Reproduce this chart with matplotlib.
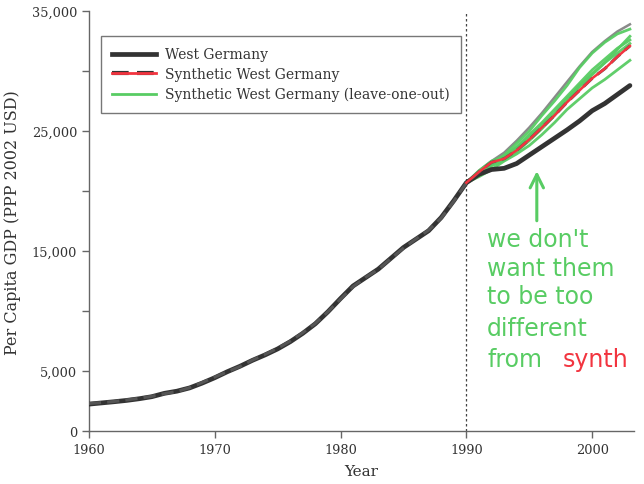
import matplotlib
matplotlib.use("Agg")
import matplotlib.pyplot as plt
from matplotlib.lines import Line2D

# data
years = list(range(1960, 2004))
west_germany = [2250, 2350, 2450, 2560, 2700, 2870, 3150, 3330, 3600, 4000,
                4450, 4950, 5400, 5900, 6350, 6850, 7450, 8150, 8950, 9950,
                11050, 12100, 12800, 13500, 14400, 15300, 16000, 16700, 17800, 19200,
                20700, 21400, 21800, 21900, 22300, 23000, 23700, 24400, 25100, 25850,
                26700, 27300, 28050, 28800]
synthetic = [2300, 2380, 2470, 2600, 2740, 2900, 3120, 3300, 3620, 4050,
             4500, 4950, 5380, 5920, 6400, 6900, 7500, 8200, 8980, 9950,
             11000, 12050, 12820, 13480, 14380, 15250, 16020, 16750, 17750, 19150,
             20700, 21600, 22400, 22700, 23400, 24300, 25300, 26300, 27400, 28400,
             29400, 30200, 31200, 32100]

loo_years = list(range(1990, 2004))
loo_1 = [20700, 21600, 22300, 23000, 24000, 25000, 26300, 27500, 28800, 30300,
         31500, 32400, 33100, 33500]
loo_2 = [20700, 21700, 22500, 22900, 23700, 24700, 25700, 26800, 27900, 29000,
         30100, 31000, 31900, 32600]
loo_3 = [20700, 21500, 22200, 22800, 23600, 24500, 25500, 26500, 27700, 28800,
         29800, 30700, 31500, 32300]
loo_4 = [20700, 21200, 21800, 22500, 23100, 23800, 24700, 25700, 26800, 27700,
         28600, 29300, 30100, 30900]
loo_5 = [20700, 21300, 22100, 22600, 23300, 24200, 25200, 26300, 27500, 28700,
         29700, 30700, 31800, 32900]
loo_grey = [20700, 21700, 22500, 23200, 24200, 25300, 26500, 27800, 29100, 30400,
            31600, 32500, 33300, 33900]
loo_series = [loo_4, loo_3, loo_2, loo_5, loo_1]

y_ticks = list(range(0, 35001, 5000))
y_labels = ['0', '5,000', '', '15,000', '', '25,000', '', '35,000']
x_ticks = [1960, 1970, 1980, 1990, 2000]

GREEN = '#58cc63'
RED = '#f2343f'
INK = '#333333'

plt.rcParams['font.family'] = ['DejaVu Serif']
fig = plt.figure(figsize=(6.44, 4.85), dpi=100)
ax = fig.add_axes([0.138, 0.109, 0.846, 0.866])

ax.plot(loo_years, loo_grey, color='#8a8a8a', lw=1.8, zorder=2)
for s in loo_series:
    ax.plot(loo_years, s, color=GREEN, lw=2.0, alpha=0.95, zorder=3)
ax.plot(years, west_germany, color=INK, lw=3.4, solid_capstyle='round', zorder=4)
ax.plot(years, synthetic, color='#555555', lw=2.2, ls=(0, (4, 2)), zorder=5)
ax.plot(years[30:], synthetic[30:], color=RED, lw=1.8, zorder=6)

ax.axvline(1990, color='#444444', lw=0.9, ls=(0, (2, 2)), zorder=1)

ax.set_xlim(1960, 2003.3)
ax.set_ylim(0, 35000)
ax.set_xticks(x_ticks)
ax.set_yticks(y_ticks)
ax.set_yticklabels(y_labels)
for side in ['top', 'right']:
    ax.spines[side].set_visible(False)
for side in ['left', 'bottom']:
    ax.spines[side].set_color('#666666')
    ax.spines[side].set_linewidth(1.0)
ax.tick_params(direction='out', length=5, width=1.0, color='#666666',
               labelcolor=INK, labelsize=9.3)
ax.set_xlabel('Year', color=INK, fontsize=11, labelpad=6)
ax.set_ylabel('Per Capita GDP (PPP 2002 USD)', color=INK, fontsize=11.5, labelpad=8)

h_west = Line2D([], [], color=INK, lw=3.4)
h_syn_k = Line2D([], [], color='#333333', lw=3.0, ls=(0, (4, 2)))
h_syn_r = Line2D([], [], color=RED, lw=2.0)
h_loo = Line2D([], [], color=GREEN, lw=2.0)
leg = ax.legend([h_west, (h_syn_k, h_syn_r), h_loo],
                ['West Germany', 'Synthetic West Germany',
                 'Synthetic West Germany (leave-one-out)'],
                loc='upper left', bbox_to_anchor=(0.022, 0.94), borderaxespad=0,
                fontsize=10, handlelength=3.2, frameon=True, fancybox=False,
                labelspacing=0.42, borderpad=0.8, handletextpad=0.6)
leg.get_frame().set_edgecolor('#555555')
leg.get_frame().set_linewidth(1.0)
for t in leg.get_texts():
    t.set_color(INK)

# handwritten note
ax.annotate('', xy=(1995.6, 21900), xytext=(1995.6, 17300),
            arrowprops=dict(arrowstyle='->', color=GREEN, lw=2.2,
                            mutation_scale=24))
note = ['we don\'t', 'want them', 'to be too', 'different']
baselines = [247, 276, 304, 336]
for line, yb in zip(note, baselines):
    fig.text(487 / 644, 1 - yb / 485, line, color=GREEN,
             fontsize=17, family='DejaVu Sans', va='baseline', ha='left')
fig.text(487 / 644, 1 - 367 / 485, 'from', color=GREEN,
         fontsize=17, family='DejaVu Sans', va='baseline', ha='left')
fig.text(563 / 644, 1 - 367 / 485, 'synth', color=RED,
         fontsize=17, family='DejaVu Sans', va='baseline', ha='left')

fig.savefig('out.png', dpi=100)
